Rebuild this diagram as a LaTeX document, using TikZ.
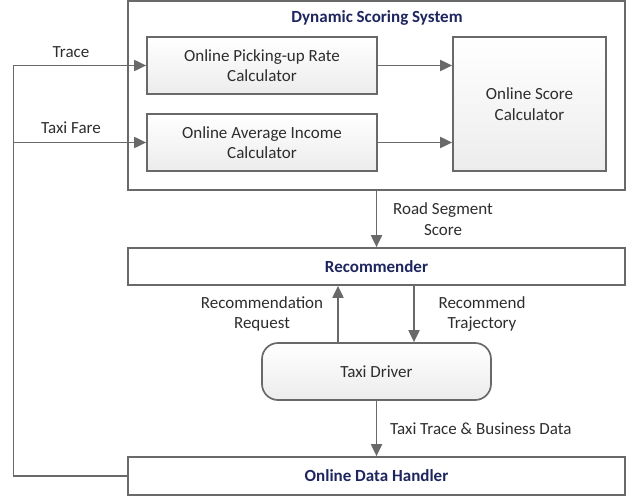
\documentclass[tikz,border=0pt]{standalone}
\usepackage{fontspec}
\setmainfont{Carlito}
\usetikzlibrary{arrows.meta,positioning}
\definecolor{linegray}{RGB}{105,105,105}
\definecolor{navy}{RGB}{30,38,95}
\definecolor{txt}{RGB}{45,45,45}
\definecolor{shade}{RGB}{236,236,236}
\tikzset{
  box/.style={draw=linegray, line width=1.7pt, minimum width=#1, inner sep=0pt, align=center, text=txt, font=\fontsize{17}{20.5}\selectfont},
  calc/.style={box=#1, top color=white, bottom color=shade},
  title/.style={text=navy, font=\fontsize{17}{20.5}\selectfont\bfseries},
  lbl/.style={text=txt, align=center, font=\fontsize{17}{20.5}\selectfont, inner sep=0pt},
  conn/.style={draw=linegray, line width=1.9pt},
  arr/.style={conn, -{Triangle[length=12pt,width=11pt]}},
}
\begin{document}
\begin{tikzpicture}[x=1pt,y=-1pt]
\path[use as bounding box] (0,0) rectangle (636,500);
% outer system box
\node[box=497pt, minimum height=189pt, fill=white] (sys) at (376.5,95.5) {};
\node[title] (systitle) at (377,18) {Dynamic Scoring System};
\node[calc=230pt, minimum height=57pt] (pick) at (262,65.5) {Online Picking-up Rate\\Calculator};
\node[calc=230pt, minimum height=57pt] (inc) at (262,142.5) {Online Average Income\\Calculator};
\node[calc=153pt, minimum height=134pt] (score) at (529.5,104) {Online Score\\Calculator};
% recommender
\node[box=497pt, minimum height=37pt, fill=white, title] (rec) at (376.5,266.5) {Recommender};
% taxi driver
\node[calc=229pt, minimum height=57pt, rounded corners=16pt] (td) at (376.5,371.5) {Taxi Driver};
% online data handler
\node[box=497pt, minimum height=38pt, fill=white, title] (odh) at (376.5,476) {Online Data Handler};
% connectors
\coordinate (L) at (13.5,476);
\draw[conn] (odh.west) -- (L) -- (L |- pick.west);
\draw[arr] (L |- pick.west) -- (pick.west);
\draw[arr] (L |- inc.west) -- (inc.west);
\draw[arr] (pick.east) -- (score.west |- pick.east);
\draw[arr] (inc.east) -- (score.west |- inc.east);
\draw[arr] (sys.south) -- (rec.north);
\draw[arr] (td.north -| 338,0) -- (rec.south -| 338,0);
\draw[arr] (rec.south -| 414,0) -- (td.north -| 414,0);
\draw[arr] (td.south) -- (odh.north);
% labels
\node[lbl] (ltrace) at (71,52) {Trace};
\node[lbl] (lfare) at (71,128) {Taxi Fare};
\node[lbl] (lroad) at (443,219) {Road Segment\\Score};
\node[lbl] (lreq) at (262,314) {Recommendation\\Request};
\node[lbl] (ltraj) at (482,314) {Recommend\\Trajectory};
\node[lbl, anchor=west] (ldata) at (390,429) {Taxi Trace \& Business Data};
\end{tikzpicture}
\end{document}
